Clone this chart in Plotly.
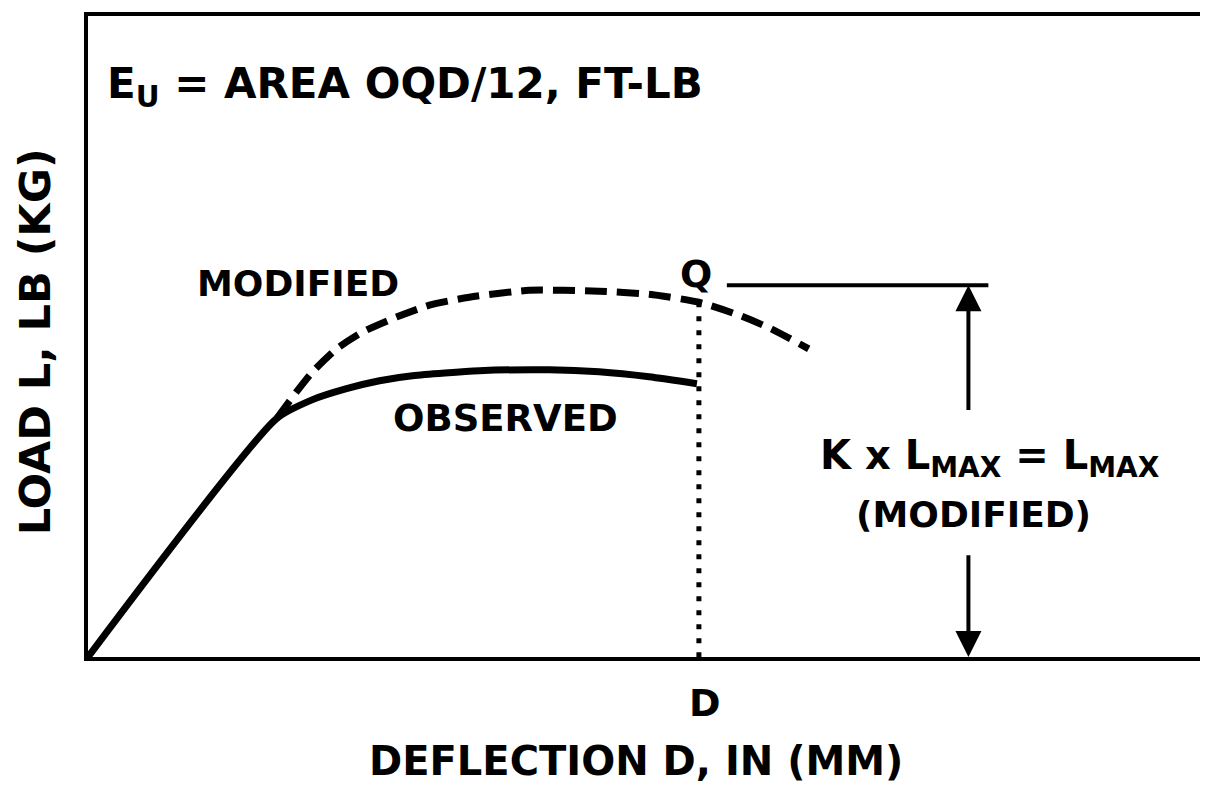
import plotly.graph_objects as go

# Data (arbitrary deflection / load units)
obs_x = [0.00, 1.89, 2.25, 2.59, 2.92, 3.25, 3.92, 4.62, 5.12, 5.62, 6.10]
obs_y = [0.00, 2.40, 2.59, 2.70, 2.78, 2.83, 2.88, 2.89, 2.87, 2.82, 2.75]

mod_x = [1.89, 2.09, 2.25, 2.49, 2.75, 3.09, 3.42, 3.82, 4.42, 5.12, 5.62, 6.12, 6.52, 6.85, 7.22]
mod_y = [2.40, 2.67, 2.87, 3.10, 3.27, 3.42, 3.54, 3.62, 3.69, 3.68, 3.65, 3.57, 3.44, 3.30, 3.10]

D_x = 6.12
Q_y = 3.57
LMAX_y = 3.74
LMAX_line_x = [6.40, 9.02]
arrow_x = 8.82
arrow_upper_tail = 2.47
arrow_lower_tail = 1.04

X_RANGE = [0, 11.14]
Y_RANGE = [0, 6.45]

FONT = "DejaVu Sans"

fig = go.Figure()
fig.add_trace(go.Scatter(x=obs_x, y=obs_y, mode="lines",
                         line=dict(color="black", width=7, shape="spline", smoothing=0.6),
                         showlegend=False, hoverinfo="skip"))
fig.add_trace(go.Scatter(x=mod_x, y=mod_y, mode="lines",
                         line=dict(color="black", width=7, dash="22px,10px", shape="spline", smoothing=0.6),
                         showlegend=False, hoverinfo="skip"))
fig.add_trace(go.Scatter(x=[D_x, D_x], y=[Q_y, 0], mode="lines",
                         line=dict(color="black", width=5, dash="5px,9px"),
                         showlegend=False, hoverinfo="skip"))
fig.add_trace(go.Scatter(x=LMAX_line_x, y=[LMAX_y, LMAX_y], mode="lines",
                         line=dict(color="black", width=4),
                         showlegend=False, hoverinfo="skip"))

annotations = []
annotations.append(dict(x=arrow_x, y=LMAX_y, ax=arrow_x, ay=arrow_upper_tail,
                        xref="x", yref="y", axref="x", ayref="y", text="",
                        showarrow=True, arrowhead=2, arrowsize=1.3, arrowwidth=4, arrowcolor="black"))
annotations.append(dict(x=arrow_x, y=0, ax=arrow_x, ay=arrow_lower_tail,
                        xref="x", yref="y", axref="x", ayref="y", text="",
                        showarrow=True, arrowhead=2, arrowsize=1.3, arrowwidth=4, arrowcolor="black"))

def txt(text, x, y, size, xref="x", yref="y", **kw):
    d = dict(text=text, x=x, y=y, xref=xref, yref=yref, showarrow=False,
             xanchor="center", yanchor="middle",
             font=dict(family=FONT, size=size, color="black", weight="bold"))
    d.update(kw)
    return d

annotations += [
    txt("E<sub>U</sub> = AREA OQD/12, FT-LB", 0.17, 5.74, 42, xanchor="left"),
    txt("MODIFIED", 2.10, 3.76, 36),
    txt("OBSERVED", 4.18, 2.40, 37),
    txt("Q", 6.09, 3.85, 38),
    txt("K x L<sub>MAX</sub> = L<sub>MAX</sub>", 9.04, 2.00, 40),
    txt("(MODIFIED)", 8.87, 1.43, 36),
    txt("D", 6.18, -0.0713, 38, yref="paper"),
    txt("DEFLECTION D, IN (MM)", 5.49, -0.163, 40, yref="paper"),
    txt("LOAD L, LB (KG)", -0.0476, 0.491, 43, xref="paper", yref="paper", textangle=-90),
]

fig.update_layout(
    width=1200, height=779,
    margin=dict(l=80, r=6, t=4, b=130),
    paper_bgcolor="white", plot_bgcolor="white",
    xaxis=dict(range=X_RANGE, showgrid=False, zeroline=False, showticklabels=False,
               ticks="", showline=True, linecolor="black", linewidth=4, mirror=True),
    yaxis=dict(range=Y_RANGE, showgrid=False, zeroline=False, showticklabels=False,
               ticks="", showline=True, linecolor="black", linewidth=4, mirror=True),
    annotations=annotations,
)

fig.write_html("out.html")
